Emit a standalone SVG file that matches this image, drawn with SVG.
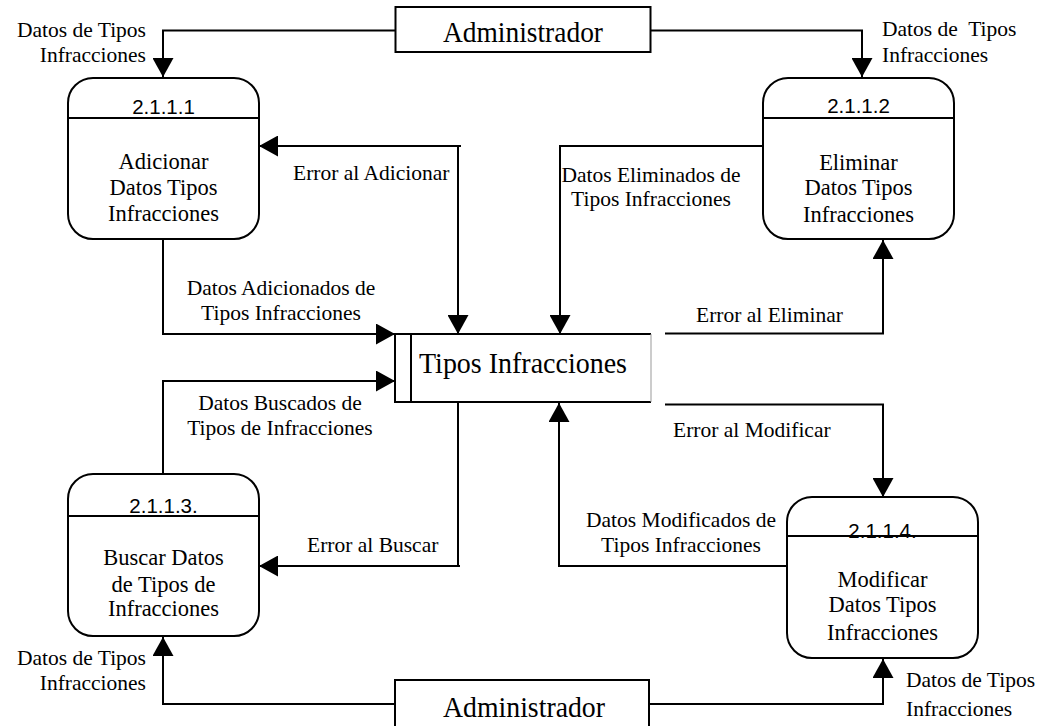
<svg xmlns="http://www.w3.org/2000/svg" width="1039" height="726" viewBox="0 0 1039 726">
  <style>
    .bg { fill: #ffffff; }
    .box { fill: #ffffff; stroke: #000000; stroke-width: 2; }
    .proc { fill: #ffffff; stroke: #000000; stroke-width: 2; }
    .sep { stroke: #000000; stroke-width: 2; }
    .flow { fill: none; stroke: #000000; stroke-width: 2; }
    .num { font-family: "Liberation Sans", Arial, sans-serif; font-size: 20.5px; fill: #000000; text-anchor: middle; }
    .ptxt { font-family: "Liberation Serif", "Times New Roman", serif; font-size: 22.5px; fill: #000000; text-anchor: middle; }
    .lbl { font-family: "Liberation Serif", "Times New Roman", serif; font-size: 21.5px; fill: #000000; }
    .big { font-family: "Liberation Serif", "Times New Roman", serif; font-size: 30px; fill: #000000; }
    .mid { text-anchor: middle; }
    .end { text-anchor: end; }
  </style>
  <defs>
    <marker id="arrow" markerUnits="userSpaceOnUse" markerWidth="20" markerHeight="21" refX="19" refY="10.5" orient="auto-start-reverse" viewBox="0 0 20 21">
      <path d="M0,0 L19,10.5 L0,21 Z" fill="#000000"/>
    </marker>
  </defs>

  <rect class="bg" x="0" y="0" width="1039" height="726"/>

  <!-- data flows -->
  <g id="connectors">
    <path class="flow" d="M395,30.5 H163 V77" marker-end="url(#arrow)"/>
    <path class="flow" d="M651,30.5 H862 V77" marker-end="url(#arrow)"/>
    <path class="flow" d="M163,239 V334 H395" marker-end="url(#arrow)"/>
    <path class="flow" d="M163,474 V381 H395" marker-end="url(#arrow)"/>
    <path class="flow" d="M458,334 V146 H259" marker-start="url(#arrow)" marker-end="url(#arrow)"/>
    <path class="flow" d="M458,146 H461"/>
    <path class="flow" d="M768,146 H560 V334" marker-end="url(#arrow)"/>
    <path class="flow" d="M665,333.5 H883 V240" marker-end="url(#arrow)"/>
    <path class="flow" d="M665,404.5 H883 V497" marker-end="url(#arrow)"/>
    <path class="flow" d="M792,566 H559 V403" marker-end="url(#arrow)"/>
    <path class="flow" d="M458,402 V566 H259" marker-end="url(#arrow)"/>
    <path class="flow" d="M458,566 H460"/>
    <path class="flow" d="M395,704 H163 V637" marker-end="url(#arrow)"/>
    <path class="flow" d="M649,704 H883 V659" marker-end="url(#arrow)"/>
  </g>

  <!-- flow labels -->
  <g id="labels">
    <text class="lbl end" x="146" y="37">Datos de Tipos</text>
    <text class="lbl end" x="146" y="62">Infracciones</text>
    <text class="lbl" x="882" y="36" xml:space="preserve">Datos de  Tipos</text>
    <text class="lbl" x="882" y="62">Infracciones</text>
    <text class="lbl" x="293" y="180">Error al Adicionar</text>
    <text class="lbl mid" x="651" y="182">Datos Eliminados de</text>
    <text class="lbl mid" x="651" y="206">Tipos Infracciones</text>
    <text class="lbl mid" x="281" y="295">Datos Adicionados de</text>
    <text class="lbl mid" x="281" y="320">Tipos Infracciones</text>
    <text class="lbl" x="696" y="322">Error al Eliminar</text>
    <text class="lbl mid" x="280" y="410">Datos Buscados de</text>
    <text class="lbl mid" x="280" y="435">Tipos de Infracciones</text>
    <text class="lbl" x="673" y="437">Error al Modificar</text>
    <text class="lbl mid" x="681" y="527">Datos Modificados de</text>
    <text class="lbl mid" x="681" y="552">Tipos Infracciones</text>
    <text class="lbl" x="307" y="552">Error al Buscar</text>
    <text class="lbl end" x="146" y="665">Datos de Tipos</text>
    <text class="lbl end" x="146" y="690">Infracciones</text>
    <text class="lbl" x="906" y="687">Datos de Tipos</text>
    <text class="lbl" x="906" y="716">Infracciones</text>
  </g>

  <!-- external entity (top) -->
  <g id="admin-top">
    <rect class="box" x="395.5" y="7" width="255" height="45"/>
    <text class="big" x="443" y="42" textLength="160" lengthAdjust="spacingAndGlyphs">Administrador</text>
  </g>

  <!-- external entity (bottom) -->
  <g id="admin-bottom">
    <rect class="box" x="395" y="680" width="254" height="60"/>
    <text class="big" x="443" y="717" textLength="162" lengthAdjust="spacingAndGlyphs">Administrador</text>
  </g>

  <!-- data store -->
  <g id="store">
    <rect x="395" y="334" width="256" height="68" fill="#ffffff"/>
    <line x1="395" y1="334" x2="651" y2="334" class="sep"/>
    <line x1="395" y1="402" x2="651" y2="402" class="sep"/>
    <line x1="395" y1="333" x2="395" y2="403" class="sep"/>
    <line x1="411" y1="334" x2="411" y2="402" class="sep"/>
    <line x1="651" y1="334" x2="651" y2="402" stroke="#999999" stroke-width="1"/>
    <text class="big" x="419" y="373" textLength="208" lengthAdjust="spacingAndGlyphs">Tipos Infracciones</text>
  </g>

  <!-- process 2.1.1.1 -->
  <g id="p2111">
    <rect class="proc" x="68" y="78" width="191" height="161" rx="25" ry="25"/>
    <line class="sep" x1="68" y1="118" x2="259" y2="118"/>
    <text class="num" x="163.5" y="114">2.1.1.1</text>
    <text class="ptxt" x="163.5" y="169">Adicionar</text>
    <text class="ptxt" x="163.5" y="195">Datos Tipos</text>
    <text class="ptxt" x="163.5" y="221">Infracciones</text>
  </g>

  <!-- process 2.1.1.2 -->
  <g id="p2112">
    <rect class="proc" x="763" y="78" width="191" height="161" rx="25" ry="25"/>
    <line class="sep" x1="763" y1="118" x2="954" y2="118"/>
    <text class="num" x="858.5" y="113">2.1.1.2</text>
    <text class="ptxt" x="858.5" y="170">Eliminar</text>
    <text class="ptxt" x="858.5" y="195">Datos Tipos</text>
    <text class="ptxt" x="858.5" y="222">Infracciones</text>
  </g>

  <!-- process 2.1.1.3 -->
  <g id="p2113">
    <rect class="proc" x="68" y="474" width="191" height="162" rx="25" ry="25"/>
    <line class="sep" x1="68" y1="516" x2="259" y2="516"/>
    <text class="num" x="163.5" y="513">2.1.1.3.</text>
    <text class="ptxt" x="163.5" y="565">Buscar Datos</text>
    <text class="ptxt" x="163.5" y="592">de Tipos de</text>
    <text class="ptxt" x="163.5" y="616">Infracciones</text>
  </g>

  <!-- process 2.1.1.4 -->
  <g id="p2114">
    <rect class="proc" x="787" y="497" width="191" height="161" rx="25" ry="25"/>
    <text class="num" x="882.5" y="538">2.1.1.4.</text>
    <line class="sep" x1="787" y1="536" x2="978" y2="536"/>
    <text class="ptxt" x="882.5" y="587">Modificar</text>
    <text class="ptxt" x="882.5" y="612">Datos Tipos</text>
    <text class="ptxt" x="882.5" y="640">Infracciones</text>
  </g>
</svg>
